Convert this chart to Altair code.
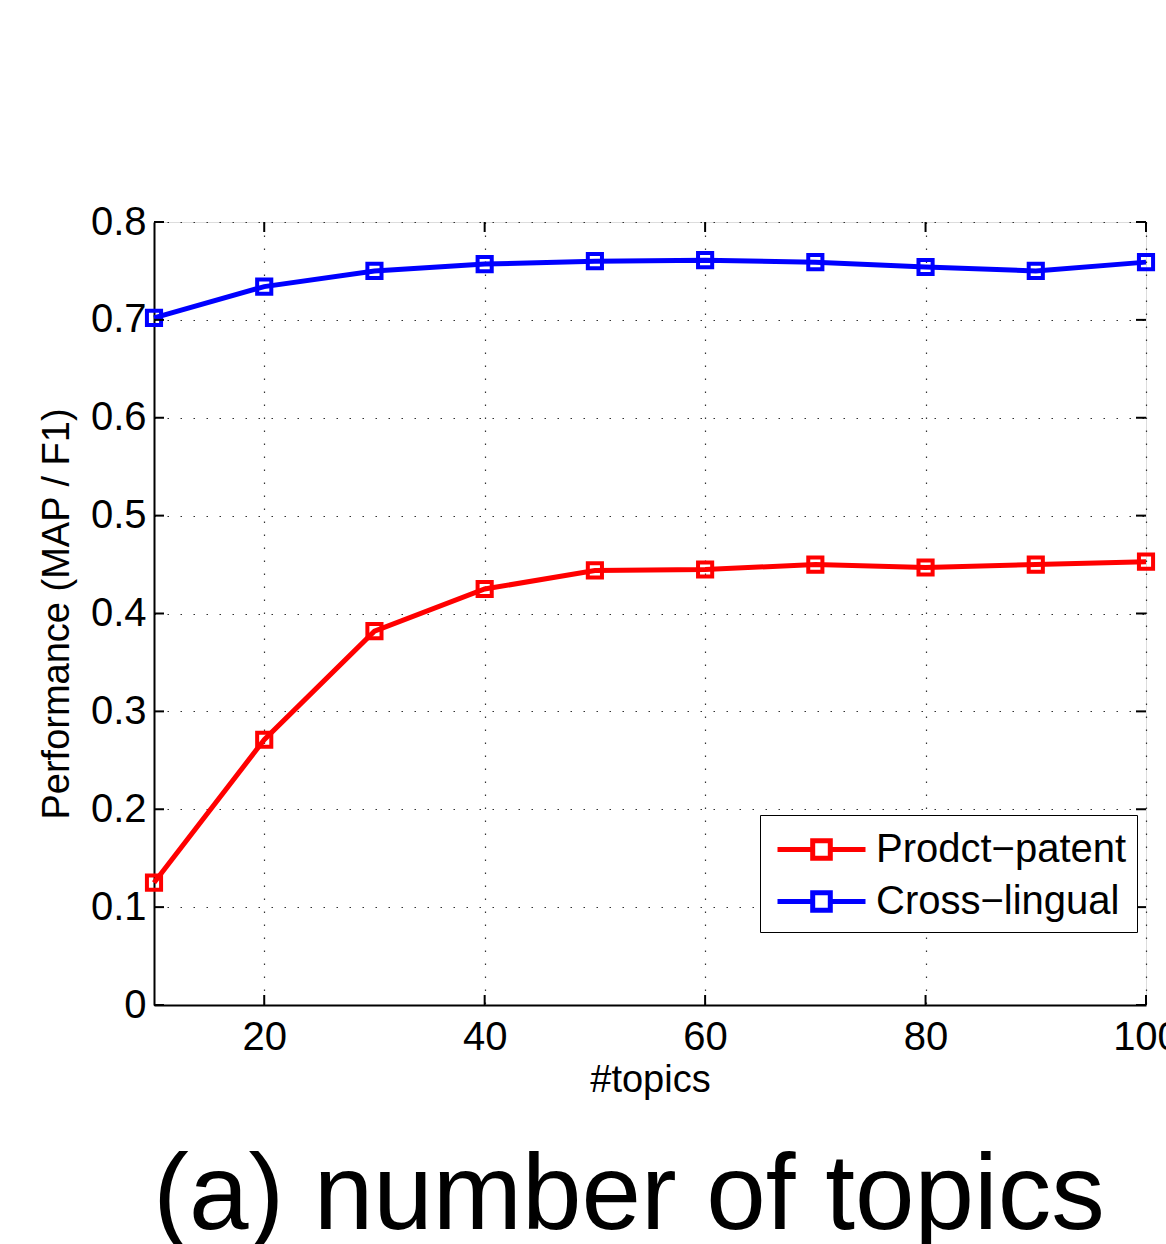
import altair as alt
import pandas as pd

topics = [10, 20, 30, 40, 50, 60, 70, 80, 90, 100]
prodct_patent = [0.125, 0.271, 0.382, 0.425, 0.444, 0.445, 0.450, 0.447, 0.450, 0.453]
cross_lingual = [0.702, 0.734, 0.750, 0.757, 0.760, 0.761, 0.759, 0.754, 0.750, 0.759]
series_names = ["Prodct\u2212patent", "Cross\u2212lingual"]
series_colors = ["#ff0000", "#0000ff"]
x_ticks = [20, 40, 60, 80, 100]
y_ticks = [0, 0.1, 0.2, 0.3, 0.4, 0.5, 0.6, 0.7, 0.8]

rows = []
for t, v in zip(topics, prodct_patent):
    rows.append({"topics": t, "value": v, "series": series_names[0]})
for t, v in zip(topics, cross_lingual):
    rows.append({"topics": t, "value": v, "series": series_names[1]})
df = pd.DataFrame(rows)
xtick_df = pd.DataFrame({"topics": x_ticks})
ytick_df = pd.DataFrame({"value": y_ticks})

FONT = "Liberation Sans"
W, H = 992, 783
TICK = 10

legend_symbol = "M -2 0 L -0.4 0 M 0.4 0 L 2 0 M -0.4 -0.4 L 0.4 -0.4 L 0.4 0.4 L -0.4 0.4 Z"

x_enc = alt.X("topics:Q",
              scale=alt.Scale(domain=[10, 100], nice=False, zero=False),
              axis=alt.Axis(values=x_ticks, title="#topics", labelFontSize=40,
                            titleFontSize=38, titleFontWeight="normal",
                            labelPadding=12, titlePadding=4, ticks=False,
                            grid=True, gridDash=[1.5, 11.5], gridColor="#333333",
                            gridWidth=1.2, domainColor="black", domainWidth=2,
                            labelColor="black", titleColor="black",
                            labelFont=FONT, titleFont=FONT, labelFlush=False,
                            labelOverlap=False))
y_enc = alt.Y("value:Q",
              scale=alt.Scale(domain=[0, 0.8], nice=False),
              axis=alt.Axis(values=y_ticks, title="Performance (MAP / F1)",
                            labelFontSize=40, titleFontSize=38,
                            titleFontWeight="normal", labelPadding=8,
                            titlePadding=14, ticks=False, grid=True,
                            gridDash=[1.5, 11.5], gridColor="#333333", gridWidth=1.2,
                            domainColor="black", domainWidth=2,
                            labelColor="black", titleColor="black",
                            labelFont=FONT, titleFont=FONT, labelFlush=False,
                            labelOverlap=False,
                            labelExpr="datum.value == 0 ? '0' : format(datum.value, '.1f')"))

lines = alt.Chart(df).mark_line(
    strokeWidth=5,
    point=alt.OverlayMarkDef(shape="square", filled=False, size=200, strokeWidth=4),
).encode(
    x=x_enc,
    y=y_enc,
    color=alt.Color("series:N",
                    scale=alt.Scale(domain=series_names, range=series_colors),
                    legend=alt.Legend(title=None, orient="none", legendX=606,
                                      legendY=593, labelFontSize=40,
                                      labelFont=FONT, labelColor="black",
                                      symbolType=legend_symbol, symbolSize=1936,
                                      symbolStrokeWidth=5, symbolFillColor="transparent",
                                      symbolOffset=27,
                                      strokeColor="black", fillColor="white",
                                      padding=10, rowPadding=7, labelOffset=30,
                                      labelLimit=400, cornerRadius=0)),
    order=alt.Order("series:N"),
)

tick_style = dict(color="black", strokeWidth=2)
left_ticks = alt.Chart(ytick_df).mark_rule(**tick_style).encode(
    y="value:Q", x=alt.value(0), x2=alt.value(TICK))
right_ticks = alt.Chart(ytick_df).mark_rule(**tick_style).encode(
    y="value:Q", x=alt.value(W - TICK), x2=alt.value(W))
bottom_ticks = alt.Chart(xtick_df).mark_rule(**tick_style).encode(
    x="topics:Q", y=alt.value(H - TICK), y2=alt.value(H))
top_ticks = alt.Chart(xtick_df).mark_rule(**tick_style).encode(
    x="topics:Q", y=alt.value(0), y2=alt.value(TICK))

chart = alt.layer(
    lines, left_ticks, right_ticks, bottom_ticks, top_ticks
).properties(
    width=W,
    height=H,
    autosize=alt.AutoSizeParams(type="none"),
    padding={"left": 154, "top": 222, "right": 20, "bottom": 239},
    title=alt.TitleParams("(a) number of topics", orient="bottom", anchor="middle",
                          fontSize=107, font=FONT, fontWeight="normal",
                          color="black", offset=45, dx=-21),
).configure_view(
    stroke="black", strokeWidth=2
).configure(background="white")

chart.save("out.html", embed_options={"renderer": "svg", "actions": False})
